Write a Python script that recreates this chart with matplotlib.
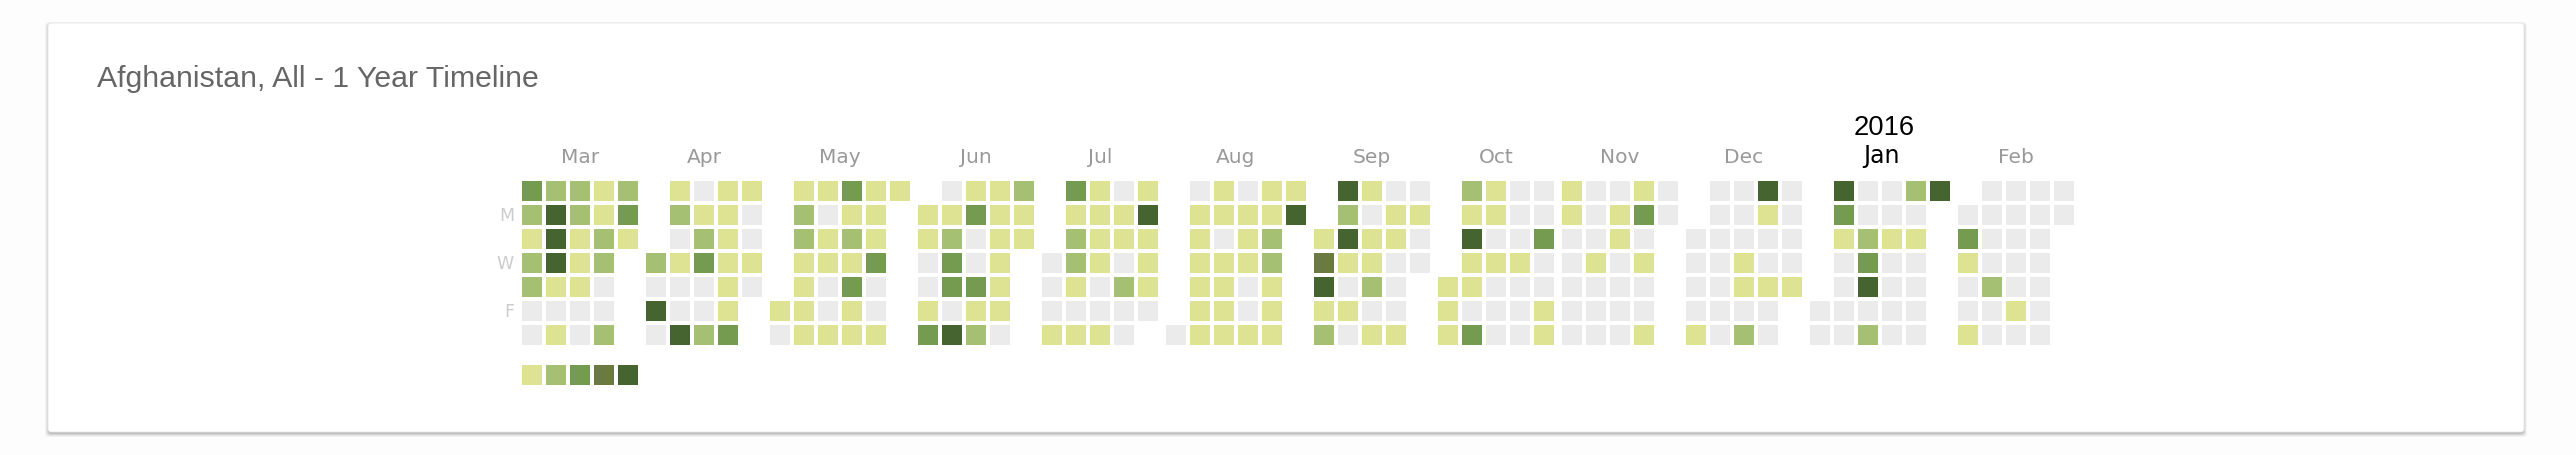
import datetime as dt
import matplotlib

matplotlib.use("Agg")
from matplotlib import pyplot as plt
from matplotlib.patches import Rectangle, FancyBboxPatch

TITLE = "Afghanistan, All - 1 Year Timeline"
MONTHS = ["Mar", "Apr", "May", "Jun", "Jul", "Aug", "Sep", "Oct", "Nov", "Dec", "Jan", "Feb"]
YEAR_START = 2015
MONTH_START = 3
NEW_YEAR_LABEL = "2016"
DAY_LABELS = {1: "M", 3: "W", 5: "F"}

# activity level per day (0 = none, 1..5 = legend steps)
mar = [3, 2, 1, 2, 2, 0, 0, 2, 5, 5, 5, 1, 0, 1, 2, 2, 1, 1, 1, 0, 0,
       1, 1, 2, 2, 0, 0, 2, 2, 3, 1]
apr = [2, 0, 5, 0, 1, 2, 0, 1, 0, 0, 5, 0, 1, 2, 3, 0, 0, 2, 1, 1, 1,
       1, 1, 1, 3, 1, 0, 0, 1, 0]
may = [1, 0, 1, 2, 2, 1, 1, 1, 1, 1, 0, 1, 1, 0, 0, 1, 3, 1, 2, 1, 3,
       1, 1, 1, 1, 1, 3, 0, 0, 1, 1]
jun = [1, 1, 0, 0, 1, 3, 0, 1, 2, 3, 3, 0, 5, 1, 3, 0, 0, 3, 1, 2, 1,
       1, 1, 1, 1, 1, 0, 2, 1, 1]
jul = [0, 0, 0, 1, 3, 1, 2, 2, 1, 0, 1, 1, 1, 1, 1, 0, 0, 1, 0, 1, 1,
       0, 2, 0, 0, 1, 5, 1, 1, 1, 0]
aug = [0, 0, 1, 1, 1, 1, 1, 1, 1, 1, 0, 1, 1, 1, 1, 0, 1, 1, 1, 0, 0,
       1, 1, 1, 2, 2, 1, 1, 1, 1, 5]
sep = [1, 4, 5, 1, 2, 5, 2, 5, 1, 0, 1, 0, 1, 0, 1, 1, 2, 0, 1, 0, 1,
       1, 0, 0, 0, 1, 0, 1, 0, 0]
oct_ = [1, 1, 1, 2, 1, 5, 1, 1, 0, 3, 1, 1, 0, 1, 0, 0, 0, 0, 0, 0, 1,
        0, 0, 0, 0, 0, 3, 0, 0, 1, 1]
nov = [1, 1, 0, 0, 0, 0, 0, 0, 0, 0, 1, 0, 0, 0, 0, 1, 1, 0, 0, 0, 0,
       1, 3, 0, 1, 0, 0, 1, 0, 0]
dec = [0, 0, 0, 0, 1, 0, 0, 0, 0, 0, 0, 0, 0, 0, 0, 1, 1, 0, 2, 5, 1,
       0, 0, 1, 0, 0, 0, 0, 0, 0, 1]
jan = [0, 0, 5, 3, 1, 0, 0, 0, 0, 0, 0, 2, 3, 5, 0, 2, 0, 0, 1, 0, 0,
       0, 0, 2, 0, 1, 0, 0, 0, 0, 5]
feb = [0, 3, 1, 0, 0, 1, 0, 0, 0, 0, 2, 0, 0, 0, 0, 0, 0, 0, 1, 0, 0,
       0, 0, 0, 0, 0, 0, 0, 0]
LEVELS = [mar, apr, may, jun, jul, aug, sep, oct_, nov, dec, jan, feb]

COLORS = ["#ebebeb", "#dee293", "#a5bf73", "#759b50", "#6a7a40", "#466430"]

W, H = 2576, 456
X0, Y0 = 522, 182
CELL, PITCH, GAP = 20, 24, 4

fig = plt.figure(figsize=(W / 100, H / 100), dpi=100)
fig.patch.set_facecolor("#fdfdfd")
ax = fig.add_axes([0, 0, 1, 1])
ax.set_xlim(0, W)
ax.set_ylim(H, 0)
ax.axis("off")

# card with a soft shadow
cx0, cy0, cw, ch = 48, 24, 2476, 409
for i, a in enumerate([0.04, 0.05, 0.07, 0.11]):
    e = 4 - i
    ax.add_patch(FancyBboxPatch((cx0 - e + 1, cy0 - e + 3), cw + 2 * e - 2, ch + 2 * e - 2,
                                boxstyle="round,pad=0,rounding_size=4",
                                fc="#000000", ec="none", alpha=a))
ax.add_patch(FancyBboxPatch((cx0, cy0), cw, ch, boxstyle="round,pad=0,rounding_size=3",
                            fc="white", ec="#e6e6e6", lw=0.6))

ax.text(97, 87, TITLE, fontsize=21.8, color="#666666", family="Liberation Sans", va="baseline")

col = 0
for m, days in enumerate(LEVELS):
    year = YEAR_START + (MONTH_START - 1 + m) // 12
    month = (MONTH_START - 1 + m) % 12 + 1
    first = dt.date(year, month, 1)
    offset = (first.weekday() + 1) % 7  # Sunday on top
    ncols = (offset + len(days) - 1) // 7 + 1
    xm = X0 + col * PITCH + m * GAP
    for d, lv in enumerate(days):
        c, r = divmod(offset + d, 7)
        ax.add_patch(Rectangle((xm + c * PITCH, Y0 + r * PITCH), CELL, CELL,
                               fc=COLORS[lv], ec="none"))
    cx = xm + ((ncols - 1) * PITCH + CELL) / 2
    if month == 1:
        ax.text(cx + 1, 163, MONTHS[m], fontsize=17, color="black", ha="center", va="baseline")
        ax.text(cx + 4, 135, NEW_YEAR_LABEL, fontsize=19.7, color="black",
                family="Liberation Sans", ha="center", va="baseline")
    else:
        ax.text(cx, 163, MONTHS[m], fontsize=14.5, color="#999999", ha="center", va="baseline")
    col += ncols

for r, lab in DAY_LABELS.items():
    ax.text(514, Y0 + r * PITCH + CELL / 2, lab, fontsize=12.5, color="#cccccc",
            ha="right", va="center")

# legend
for i, c in enumerate(COLORS[1:]):
    ax.add_patch(Rectangle((X0 + i * PITCH, 366), CELL, CELL, fc=c, ec="none"))

fig.savefig("out.png", dpi=100, facecolor=fig.get_facecolor())
